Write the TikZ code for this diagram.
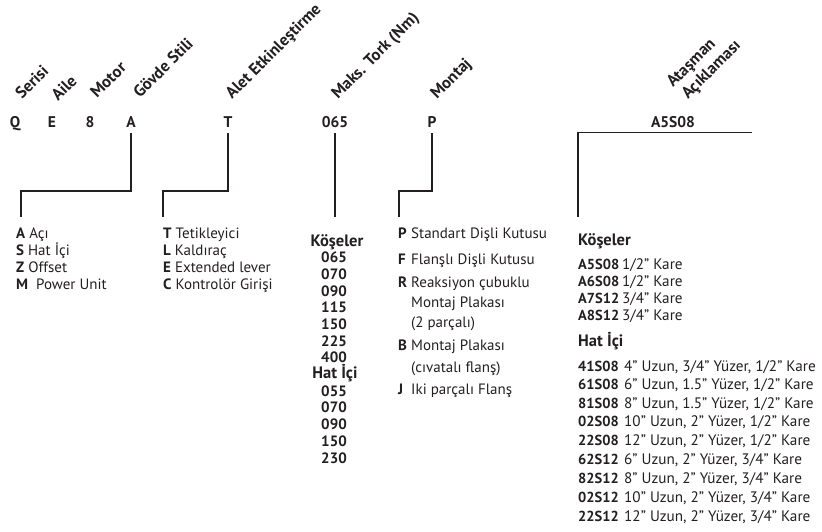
\documentclass[tikz,border=0pt]{standalone}
\usepackage{fontspec}
\setmainfont{PT Sans}
\usetikzlibrary{positioning}
\definecolor{ink}{HTML}{231F20}

\newcommand{\bodysize}{\fontsize{15}{18}\selectfont}
\newcommand{\bigsize}{\fontsize{15.2}{18}\selectfont}

\tikzset{
  code/.style={font=\bfseries\fontsize{15.5}{18}\selectfont, text=ink, inner sep=0pt, anchor=base},
  field/.style={font=\bfseries\fontsize{16.5}{19}\selectfont, text=ink, inner sep=0pt, rotate=45, anchor=base west},
  item/.style={font=\bodysize, text=ink, inner sep=0pt, anchor=base west},
  key/.style={item, font=\bfseries\bodysize},
  num/.style={font=\bfseries\fontsize{15}{18}\selectfont, text=ink, inner sep=0pt, anchor=base},
  head/.style={font=\bfseries\fontsize{16.5}{19}\selectfont, text=ink, inner sep=0pt},
  link/.style={draw=ink, line width=1.5pt}
}

\begin{document}
\begin{tikzpicture}[x=1pt, y=-1pt]
  \useasboundingbox (0,0) rectangle (822,531);

  \foreach \t/\x/\n in {Q/15/Q, E/52/E, 8/90/8, A/131/A, T/228/T, 065/335/Tork, P/432/P, A5S08/673/At} {
    \node[code] (c\n) at (\x,127) {\t};
  }

  \node[field] (fSer) at (22,100) {Serisi};
  \node[field] (fAil) at (58,102) {Aile};
  \node[field] (fMot) at (97,99) {Motor};
  \node[field] (fGov) at (140,99) {Gövde Stili};
  \node[field] (fAlt) at (232,100) {Alet Etkinleştirme};
  \node[field] (fTrk) at (338,100) {Maks. Tork (Nm)};
  \node[field] (fMnt) at (437,100) {Montaj};
  \node[field] (fAt1) at (673,88) {Ataşman};
  \node[field] (fAt2) at (688,100) {Açıklaması};

  \coordinate (eA) at (21,217);
  \coordinate (eT) at (163,217);
  \coordinate (eTork) at (335,217);
  \coordinate (eP) at (399,217);
  \coordinate (eAt) at (578,217);

  \draw[link] ([yshift=-6pt]cA.south) -- (cA |- 0,191) -| (eA);
  \draw[link] ([yshift=-6pt]cT.south) -- (cT |- 0,191) -| (eT);
  \draw[link] ([yshift=-6pt]cTork.south) -- (eTork);
  \draw[link] ([yshift=-6pt]cP.south) -- (cP |- 0,191) -| (eP);
  \draw[link] ([xshift=79pt,yshift=-5pt]cAt.south) -| (eAt);

  \foreach \k/\t/\y in {A/Açı/238, S/Hat İçi/255, Z/Offset/272, M/{\ Power Unit}/289} {
    \node[item] (g\k) at (16,\y) {\textbf{\k}\ \t};
  }

  \foreach \k/\t/\y in {T/Tetikleyici/238, L/Kaldıraç/255, E/Extended lever/272, C/Kontrolör Girişi/289} {
    \node[item] (a\k) at (163,\y) {\textbf{\k}\ \t};
  }

  \node[head, anchor=base] (tHead1) at (337,246) {Köşeler};
  \foreach \v/\y [count=\i] in {065/262, 070/279, 090/296, 115/312, 150/329, 225/346, 400/362} {
    \node[num] (tk\i) at (334,\y) {\v};
  }
  \node[head, anchor=base] (tHead2) at (335,378) {Hat İçi};
  \foreach \v/\y [count=\i] in {055/396, 070/412, 090/429, 150/446, 230/463} {
    \node[num] (th\i) at (334,\y) {\v};
  }

  \foreach \k/\y in {P/238, F/264, R/287, B/350, J/394} {
    \node[key] (m\k) at (398,\y) {\k};
  }
  \foreach \t/\y [count=\i] in {Standart Dişli Kutusu/238, Flanşlı Dişli Kutusu/264, Reaksiyon çubuklu/287,
                                Montaj Plakası/307, {(2 parçalı)}/327, Montaj Plakası/350,
                                {(cıvatalı flanş)}/372, Iki parçalı Flanş/394} {
    \node[item] (md\i) at (411,\y) {\t};
  }

  \node[head, anchor=base west] (xHead1) at (578,245) {Köşeler};
  \foreach \c/\d/\y in {A5S08/{1/2" Kare}/269, A6S08/{1/2" Kare}/286, A7S12/{3/4" Kare}/303, A8S12/{3/4" Kare}/320} {
    \node[key, font=\bfseries\fontsize{14.5}{17}\selectfont] (xk\c) at (578,\y) {\c};
    \node[item, font=\bigsize] (xd\c) at (622,\y) {\d};
  }
  \node[head, anchor=base west] (xHead2) at (578,346) {Hat İçi};
  \foreach \c/\d/\y [count=\i] in {41S08/{4" Uzun, 3/4" Yüzer, 1/2" Kare}/371,
                                   61S08/{6" Uzun, 1.5" Yüzer, 1/2" Kare}/389,
                                   81S08/{8" Uzun, 1.5" Yüzer, 1/2" Kare}/408,
                                   02S08/{10" Uzun, 2" Yüzer, 1/2" Kare}/426,
                                   22S08/{12" Uzun, 2" Yüzer, 1/2" Kare}/445,
                                   62S12/{6" Uzun, 2" Yüzer, 3/4" Kare}/464,
                                   82S12/{8" Uzun, 2" Yüzer, 3/4" Kare}/483,
                                   02S12/{10" Uzun, 2" Yüzer, 3/4" Kare}/502,
                                   22S12/{12" Uzun, 2" Yüzer, 3/4" Kare}/521} {
    \node[key, font=\bfseries\fontsize{14.5}{17}\selectfont] (xi\i) at (578,\y) {\c};
    \node[item, font=\bigsize] (xe\i) at (624,\y) {\d};
  }
\end{tikzpicture}
\end{document}
